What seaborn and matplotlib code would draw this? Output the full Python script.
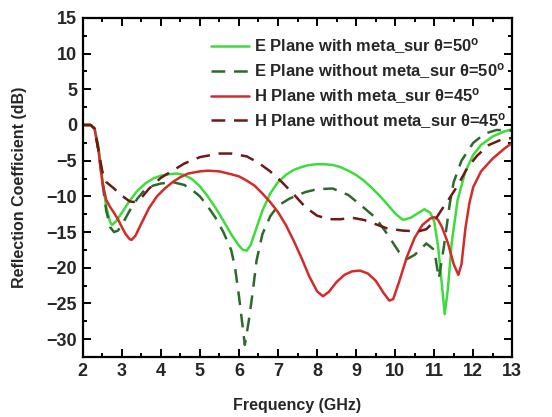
import numpy as np
import pandas as pd
import matplotlib
matplotlib.use("Agg")
import matplotlib.pyplot as plt
import seaborn as sns
from matplotlib.ticker import MultipleLocator

# ---- data ----
x_e_with = [2.0, 2.2, 2.3, 2.4, 2.5, 2.6, 2.7, 2.75, 2.85, 3.0, 3.2, 3.4, 3.6, 3.8, 4.0, 4.2, 4.4,
            4.6, 4.8, 5.0, 5.2, 5.4, 5.6, 5.8, 6.0, 6.1, 6.2, 6.3, 6.4, 6.6, 6.8, 7.0, 7.2, 7.4,
            7.6, 7.8, 8.0, 8.2, 8.4, 8.6, 8.8, 9.0, 9.2, 9.4, 9.6, 9.8, 10.0, 10.2, 10.4, 10.6,
            10.75, 10.9, 11.0, 11.1, 11.2, 11.27, 11.35, 11.45, 11.6, 11.8, 12.0, 12.2, 12.5,
            12.8, 13.0]
y_e_with = [0, 0, -0.5, -3, -7.5, -11.5, -13.6, -14, -13.5, -12.3, -10.6, -9.2, -8.2, -7.5, -7.1,
            -6.9, -6.8, -7.0, -7.6, -8.6, -10.0, -11.6, -13.4, -15.3, -16.9, -17.5, -17.6, -16.8,
            -15.2, -12.0, -9.6, -8.0, -7.0, -6.3, -5.9, -5.6, -5.5, -5.5, -5.6, -5.9, -6.4, -7.0,
            -7.8, -8.8, -9.9, -11.1, -12.4, -13.3, -13.0, -12.3, -11.8, -12.3, -13.5, -17, -22.5,
            -26.5, -23, -16.5, -10.5, -6.5, -4.2, -2.8, -1.6, -0.9, -0.6]

x_e_without = [2.0, 2.2, 2.3, 2.4, 2.5, 2.6, 2.7, 2.8, 2.9, 3.0, 3.2, 3.4, 3.6, 3.8, 4.0, 4.3,
               4.6, 4.8, 5.0, 5.2, 5.4, 5.6, 5.8, 5.9, 6.0, 6.1, 6.15, 6.25, 6.35, 6.45, 6.6,
               6.8, 7.0, 7.3, 7.7, 8.0, 8.4, 8.8, 9.2, 9.5, 9.8, 10.1, 10.3, 10.5, 10.8, 11.0,
               11.12, 11.25, 11.4, 11.5, 11.7, 12.0, 12.3, 12.6, 13.0]
y_e_without = [0, 0, -0.5, -3.5, -8, -12, -14.3, -15, -14.8, -14, -12, -10.3, -9.0, -8.5, -8.2,
               -8.0, -8.4, -9.1, -10.0, -11.4, -13.0, -15.0, -17.5, -20, -24, -28.5, -30.8,
               -27.5, -23.5, -19, -15.3, -12.8, -11.3, -10.3, -9.4, -9.0, -8.9, -9.8, -11.6,
               -13.0, -15.3, -17.8, -18.8, -18.2, -16.6, -17.5, -21.5, -17, -11, -8, -5,
               -2.5, -1.2, -0.7, -0.8]

x_h_with = [2.0, 2.2, 2.3, 2.4, 2.5, 2.6, 2.7, 2.8, 2.9, 3.0, 3.1, 3.2, 3.25, 3.35, 3.5, 3.7,
            3.9, 4.1, 4.3, 4.5, 4.7, 5.0, 5.2, 5.5, 5.8, 6.0, 6.2, 6.4, 6.6, 6.8, 7.0, 7.2,
            7.4, 7.6, 7.8, 8.0, 8.15, 8.3, 8.5, 8.7, 8.9, 9.1, 9.3, 9.5, 9.7, 9.85, 9.95,
            10.1, 10.3, 10.5, 10.7, 10.9, 11.0, 11.1, 11.2, 11.35, 11.5, 11.62, 11.7, 11.8,
            11.9, 12.0, 12.2, 12.5, 12.8, 13.0]
y_h_with = [0, 0, -0.5, -3.5, -8, -10.5, -11.5, -12.3, -13.2, -14.3, -15.3, -16.0, -16.1, -15.5,
            -13.8, -11.6, -10.0, -8.9, -8.0, -7.3, -6.8, -6.5, -6.4, -6.5, -6.9, -7.2, -7.8,
            -8.5, -9.6, -10.8, -12.2, -14, -16.2, -18.6, -21.2, -23.3, -24.0, -23.4, -22.0,
            -21.0, -20.5, -20.4, -20.8, -21.8, -23.5, -24.6, -24.4, -22, -18.5, -15.8, -14,
            -13.1, -12.9, -13.3, -14.3, -16.5, -19.5, -21, -19.5, -14.5, -11, -8.7, -6.5,
            -4.7, -3.3, -2.5]

x_h_without = [2.0, 2.2, 2.3, 2.4, 2.5, 2.6, 2.8, 3.0, 3.2, 3.3, 3.5, 3.7, 4.0, 4.3, 4.6, 5.0,
               5.5, 5.8, 6.2, 6.5, 6.8, 7.1, 7.4, 7.7, 8.0, 8.3, 8.6, 8.9, 9.2, 9.5, 9.8,
               10.2, 10.6, 10.8, 11.0, 11.2, 11.4, 11.6, 11.85, 12.1, 12.4, 12.7, 13.0]
y_h_without = [0, 0, -0.5, -3.5, -6.5, -8.0, -8.9, -9.9, -10.7, -10.8, -10.2, -8.9, -7.4, -6.4,
               -5.4, -4.5, -4.0, -4.0, -4.4, -5.3, -6.5, -8.0, -9.7, -11.5, -12.7, -13.2, -13.2,
               -13.0, -13.3, -13.9, -14.5, -14.8, -14.9, -14.6, -13.5, -11.8, -10.2, -8.5,
               -6.0, -4.3, -2.8, -2.1, -1.8]

labels = [r"E Plane with meta_sur θ=50$^{\mathbf{o}}$",
          r"E Plane without meta_sur θ=50$^{\mathbf{o}}$",
          r"H Plane with meta_sur θ=45$^{\mathbf{o}}$",
          r"H Plane without meta_sur θ=45$^{\mathbf{o}}$"]

xs = [x_e_with, x_e_without, x_h_with, x_h_without]
ys = [y_e_with, y_e_without, y_h_with, y_h_without]
colors = ["#3ddc3d", "#2b6a2b", "#d42a2a", "#6e1818"]
dashed = [False, True, False, True]

sns.set_style("ticks")
plt.rcParams['font.family'] = ['Liberation Sans', 'DejaVu Sans']
plt.rcParams['font.weight'] = 'bold'
plt.rcParams['mathtext.fontset'] = 'custom'
plt.rcParams['mathtext.bf'] = 'Liberation Sans:bold'
plt.rcParams['mathtext.rm'] = 'Liberation Sans:bold'
plt.rcParams['mathtext.default'] = 'bf'

fig = plt.figure(figsize=(5.52, 4.17), dpi=100)
ax = fig.add_axes([0.150, 0.144, 0.778, 0.813])

for x, y, lab, c, d in zip(xs, ys, labels, colors, dashed):
    df = pd.DataFrame({"Frequency": x, "S11": y})
    sns.lineplot(data=df, x="Frequency", y="S11", ax=ax, sort=False,
                 color=c, linewidth=1.8, label=lab)
    if d:
        ax.lines[-1].set_dashes((5.5, 3.5))

ax.set_xlim(2, 13)
ax.set_ylim(-32.5, 15)
ax.xaxis.set_major_locator(MultipleLocator(1))
ax.xaxis.set_minor_locator(MultipleLocator(0.5))
ax.yaxis.set_major_locator(MultipleLocator(5))
ax.yaxis.set_minor_locator(MultipleLocator(2.5))
ax.tick_params(which='both', direction='in', top=True, right=True, width=1.4, color='black')
ax.tick_params(which='major', length=5.5, labelsize=13, pad=4)
ax.tick_params(which='minor', length=3)
for lbl in ax.get_xticklabels() + ax.get_yticklabels():
    lbl.set_fontweight('bold')
for s in ax.spines.values():
    s.set_linewidth(1.6)
    s.set_color('black')
    s.set_visible(True)

ax.set_xlabel("Frequency (GHz)", fontsize=11.5, fontweight='bold', labelpad=13)
ax.set_ylabel("Reflection Coefficient (dB)", fontsize=11.5, fontweight='bold', labelpad=14)

leg = ax.legend(loc='upper right', bbox_to_anchor=(1.0, 0.965), frameon=False,
                handlelength=2.3, handletextpad=0.25, labelspacing=0.3, borderaxespad=0.0,
                prop={'weight': 'bold', 'size': 11.9})

fig.savefig("out.png", dpi=100)
